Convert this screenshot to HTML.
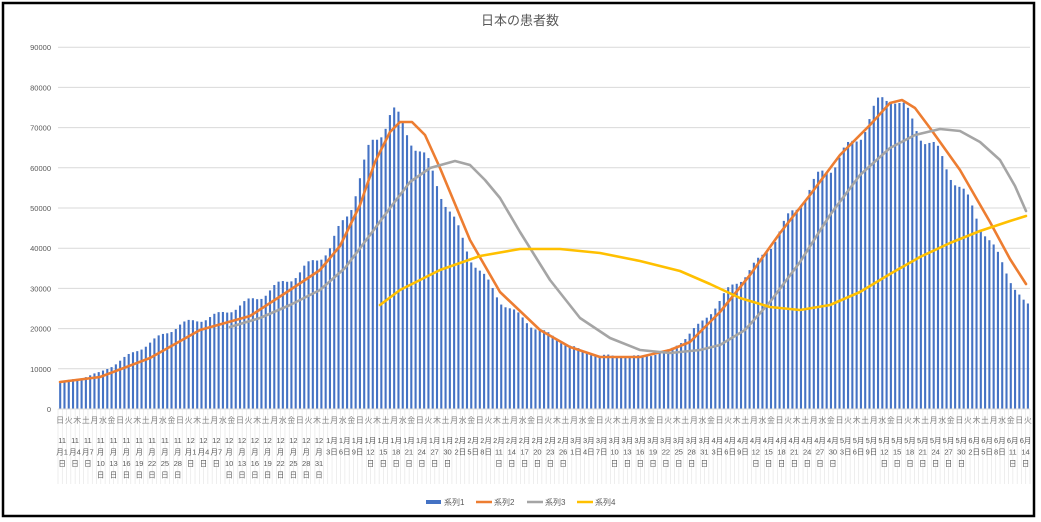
<!DOCTYPE html>
<html><head><meta charset="utf-8"><style>
html,body{margin:0;padding:0;background:#fff;}
svg{display:block;font-family:"Liberation Sans","Noto Sans CJK JP",sans-serif;}
</style></head><body>
<svg id="s" width="1041" height="522" viewBox="0 0 1041 522" xmlns="http://www.w3.org/2000/svg"></svg>
<script>
const s=document.getElementById('s');let h='';
h+='<rect x="0" y="0" width="1041" height="522" fill="#fff"/>';
h+='<rect x="3" y="3" width="1031" height="513" fill="none" stroke="#000" stroke-width="2.5"/>';
h+='<text x="520" y="25" font-size="13" fill="#595959" text-anchor="middle">日本の患者数</text>';
const X0=58,X1=1030,Y0=409,PY=40.2;
for(let k=0;k<=9;k++){const y=Y0-k*PY;
 if(k>0)h+=`<line x1="${X0}" x2="${X1}" y1="${y}" y2="${y}" stroke="#d9d9d9" stroke-width="1"/>`;
 h+=`<text x="51" y="${y+3}" font-size="7.5" fill="#595959" text-anchor="end">${k*10000}</text>`;}
const N=227,dx=(X1-X0)/N;
const yv=v=>Y0-v/10000*PY;
function interp(pts,x){for(let i=0;i<pts.length-1;i++){if(x>=pts[i][0]&&x<=pts[i+1][0]){const t=(x-pts[i][0])/(pts[i+1][0]-pts[i][0]);return pts[i][1]+t*(pts[i+1][1]-pts[i][1]);}}return pts[pts.length-1][1];}
const B=[[60,6500],[100,9000],[140,15000],[180,21000],[220,23500],[260,28000],[300,34000],[330,40000],[350,50000],[370,65000],[392,74000],[410,68000],[430,60000],[450,49000],[470,38000],[500,27000],[530,21000],[560,17000],[580,14500],[600,13200],[640,13000],[670,14500],[700,21000],[730,30000],[760,37000],[790,48000],[820,58000],[850,65000],[880,76000],[892,79000],[910,72000],[940,63000],[970,51000],[1000,37000],[1026,25500]];
for(let d=0;d<=N;d++){const x=X0+d*dx;h+=`<line x1="${x}" x2="${x}" y1="${Y0}" y2="484" stroke="#e3e3e3" stroke-width="0.6"/>`;}
for(let d=0;d<N;d++){const cx=X0+(d+0.5)*dx;let v=interp(B,cx);v*=1+0.03*Math.sin(d*2*Math.PI/7);
 h+=`<rect x="${cx-1}" y="${yv(v)}" width="2.1" height="${Y0-yv(v)}" fill="#4472c4"/>`;}
h+=`<line x1="${X0}" x2="${X1}" y1="${Y0}" y2="${Y0}" stroke="#d9d9d9"/>`;
function line(p,c){h+=`<polyline points="${p.map(q=>q.join(',')).join(' ')}" fill="none" stroke="${c}" stroke-width="2.6" stroke-linejoin="round" stroke-linecap="round"/>`;}
line([[60,382],[100,377],[150,358],[200,330],[250,316],[290,290],[320,270],[340,246],[360,205],[375,162],[390,132],[400,122],[412,122],[425,135],[440,168],[470,240],[500,292],[540,330],[570,347],[600,357],[640,357],[670,350],[690,342],[720,312],[750,275],[780,233],[810,195],[840,155],[870,125],[890,103],[902,100],[915,108],[930,128],[960,170],[990,222],[1010,259],[1026,284]],'#ed7d31');
line([[230,327],[260,318],[290,305],[320,290],[345,268],[370,235],[390,208],[410,182],[430,168],[455,161],[470,165],[485,180],[500,198],[520,232],[550,280],[580,318],[610,338],[640,350],[670,353],[700,350],[720,345],[745,330],[770,302],[800,262],[830,215],[860,175],[890,148],[915,135],[940,129],[960,131],[980,142],[1000,160],[1015,186],[1026,211]],'#a5a5a5');
line([[380,305],[400,290],[420,280],[440,270],[480,256],[520,249],[560,249],[600,253],[640,261],[680,271],[710,284],[740,298],[770,307],[800,310],[830,305],[860,292],[890,274],[920,257],[950,243],[980,231],[1010,221],[1026,216]],'#ffc000');
const wd=['日','月','火','水','木','金','土'];
for(let d=0;d<N;d+=2){const x=X0+(d+0.5)*dx;h+=`<text x="${x}" y="423" font-size="8" fill="#7f7f7f" text-anchor="middle">${wd[d%7]}</text>`;}
const dim=[30,31,31,28,31,30,31,30];const mo=[11,12,1,2,3,4,5,6];
function dateOf(d){let m=0;let day=d+1;while(day>dim[m]){day-=dim[m];m++;}return [mo[m],day];}
for(let d=0;d<N;d+=3){const [m,dd]=dateOf(d);const toks=[String(m),'月',String(dd),'日'];const lines=[];let cur='',w=0;
 for(const t of toks){const tw=/[0-9]/.test(t)?4.3*t.length:8;if(w+tw>12.5&&cur){lines.push(cur);cur='';w=0;}cur+=t;w+=tw;}
 if(cur)lines.push(cur);
 const x=X0+(d+0.5)*dx+2;lines.forEach((l,i)=>{h+=`<text x="${x}" y="${443+i*11.5}" font-size="7.5" fill="#595959" text-anchor="middle">${l}</text>`;});}
const lg=[['系列1','#4472c4',426,1],['系列2','#ed7d31',476,0],['系列3','#a5a5a5',527,0],['系列4','#ffc000',577,0]];
lg.forEach(([t,c,x,b])=>{if(b)h+=`<rect x="${x}" y="500" width="15" height="4" fill="${c}"/>`;else h+=`<line x1="${x}" x2="${x+16}" y1="502" y2="502" stroke="${c}" stroke-width="2.5"/>`;
 h+=`<text x="${x+18}" y="505" font-size="8" fill="#595959">${t}</text>`;});
s.innerHTML=h;
</script>
</body></html>
